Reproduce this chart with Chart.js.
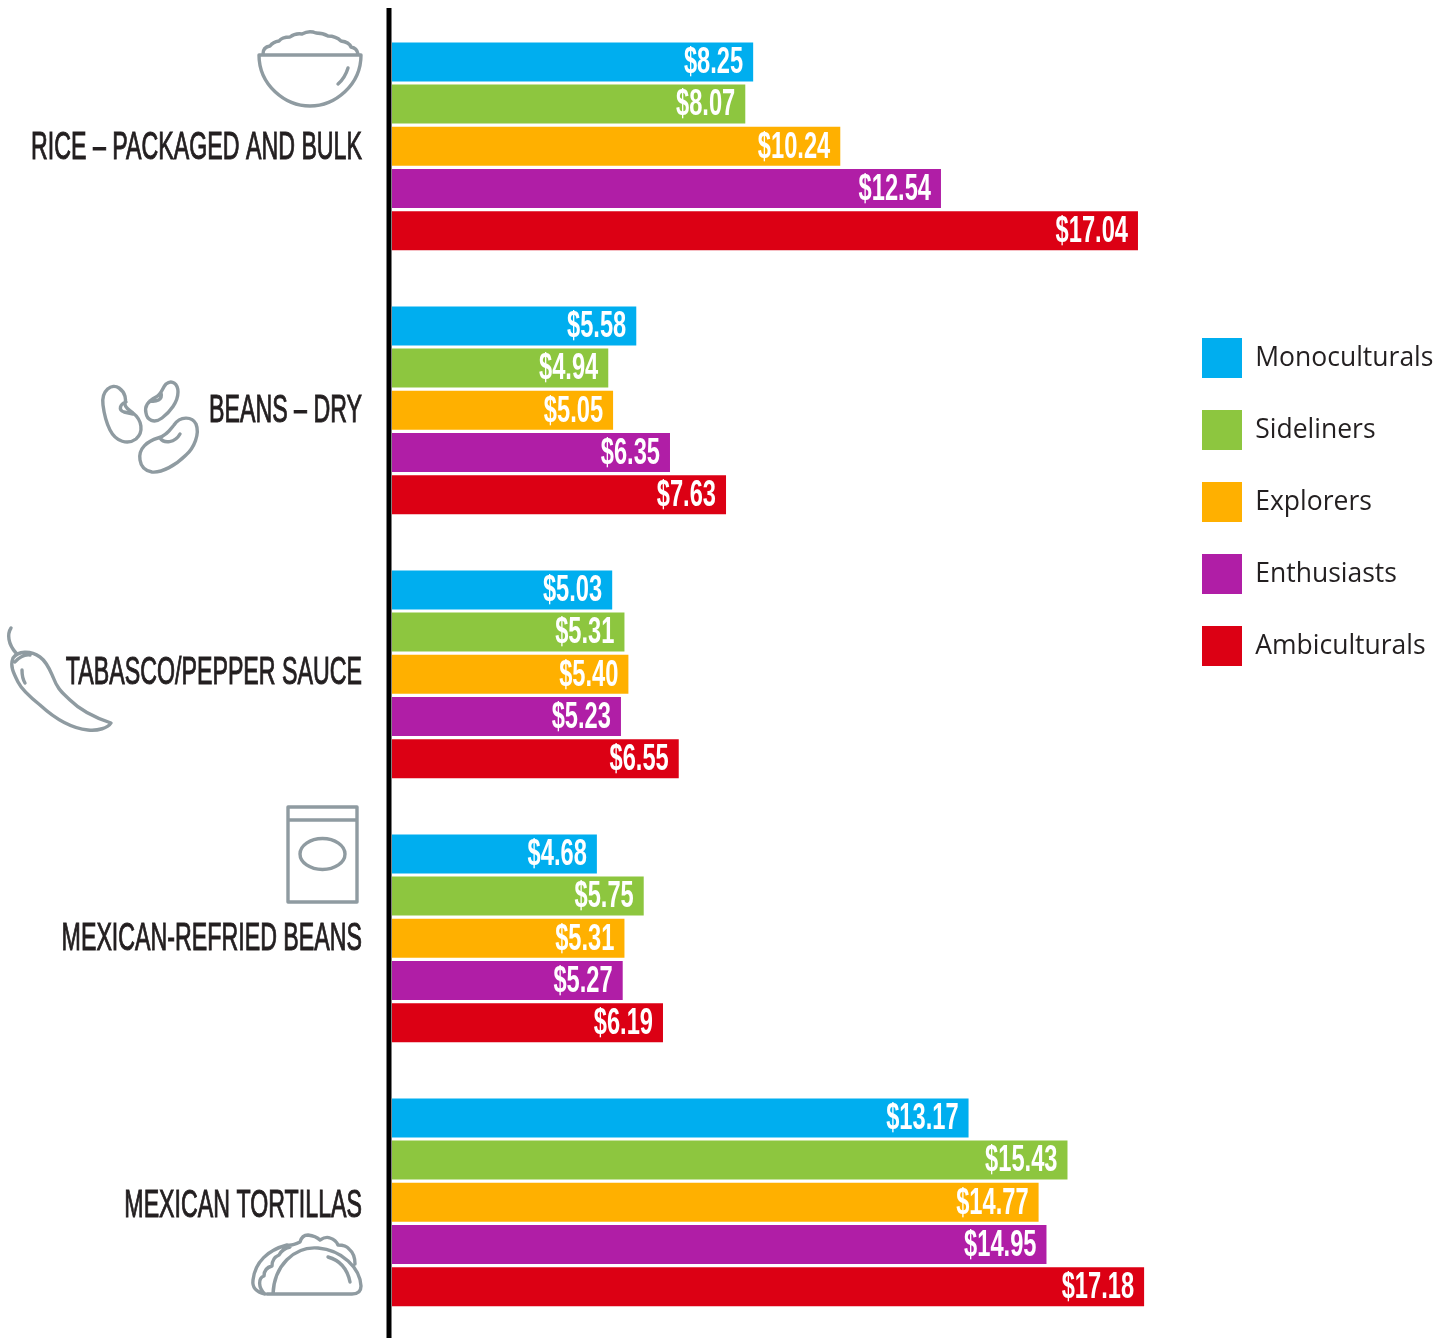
<!DOCTYPE html>
<html>
<head>
<meta charset="utf-8">
<style>
html, body { margin: 0; padding: 0; background: #fff; }
#wrap { width: 1451px; height: 1338px; }
canvas { display: block; }
</style>
<script src="https://cdn.jsdelivr.net/npm/chart.js@4"></script>
</head>
<body>
<div id="wrap"><canvas id="myChart" width="1451" height="1338"></canvas></div>
<script>
const categories = ['RICE – PACKAGED AND BULK', 'BEANS – DRY', 'TABASCO/PEPPER SAUCE', 'MEXICAN-REFRIED BEANS', 'MEXICAN TORTILLAS'];
const monoculturals = [8.25, 5.58, 5.03, 4.68, 13.17];
const sideliners = [8.07, 4.94, 5.31, 5.75, 15.43];
const explorers = [10.24, 5.05, 5.40, 5.31, 14.77];
const enthusiasts = [12.54, 6.35, 5.23, 5.27, 14.95];
const ambiculturals = [17.04, 7.63, 6.55, 6.19, 17.18];

const iconColor = '#8f9ba1';
const narrowFont = '"Liberation Sans Narrow", "Liberation Sans", sans-serif';

// squeezed text, the labels in the original are a tall condensed face
function drawCondensed(ctx, text, right, middle, font, squeeze, color, heavy) {
    ctx.save();
    ctx.font = font;
    ctx.fillStyle = color;
    ctx.strokeStyle = color;
    ctx.lineWidth = heavy;
    ctx.textAlign = 'right';
    ctx.textBaseline = 'middle';
    ctx.translate(right, middle);
    ctx.scale(squeeze, 1);
    ctx.fillText(text, 0, 0);
    if (heavy) ctx.strokeText(text, 0, 0);
    ctx.restore();
}

// outline icons next to the category labels
const icons = [
    // rice bowl
    'M259 55 L361 55 C361 85 335 106 310 106 C285 106 259 85 259 55 Z M348 68 Q345 78 338 84 ' +
    'M263 54 Q263 47 270 46 Q273 42 279 41 Q282 37 290 37 Q295 33 302 34 Q309 30 316 33 Q323 33 328 36 Q336 36 341 41 Q349 42 351 47 Q357 48 358 54',
    // beans
    'M103 405 C101 390 112 383 119 388 C126 393 126 400 125 403 C124 408 130 410 133 413 C142 420 144 432 136 439 C128 445 116 442 110 430 C106 422 104 413 103 405 Z ' +
    'M126 402 C120 404 118 410 124 412 L133 414 ' +
    'M146 413 C144 405 150 400 156 397 C162 394 162 388 166 384 C172 379 178 384 178 392 C178 402 170 412 162 418 C154 424 147 420 146 413 Z ' +
    'M161 393 C163 400 156 402 150 401 ' +
    'M140 460 C138 448 148 441 158 438 C166 436 170 430 174 425 C180 416 192 416 196 424 C200 434 194 448 186 455 C176 465 162 473 152 472 C146 471 141 467 140 460 Z ' +
    'M160 438 C164 444 175 443 180 434',
    // pepper
    'M11 628 C7 634 8 644 16 653 M13 658 C18 651 30 650 40 657 C47 662 50 670 53 677 C58 690 62 692 70 700 C78 708 90 716 111 723 C108 728 98 731 88 730 C68 728 52 716 40 705 C30 697 22 690 18 682 C13 672 10 666 13 658 Z ' +
    'M15 662 Q22 654 30 655 M22 670 Q22 678 25 683',
    // package
    'M288 807 L357 807 L357 902 L288 902 Z M288 820 L357 820',
    // taco
    'M267 1294 L352 1294 C358 1294 361 1291 361 1286 C360 1268 342 1250 318 1248 C294 1246 274 1266 273 1294 ' +
    'M265 1294 C256 1292 252 1288 253 1280 C255 1262 268 1250 287 1245 Q292 1246 300 1242 Q302 1235 308 1235 Q316 1236 320 1240 Q326 1236 330 1238 Q336 1240 338 1245 Q346 1245 349 1249 Q355 1254 355 1264 ' +
    'M265 1294 C258 1288 258 1278 264 1276 Q264 1268 272 1266 Q272 1258 279 1255 Q282 1249 290 1247 ' +
    'M328 1257 Q346 1262 350 1282'
];

const decorPlugin = {
    id: 'decor',
    afterLayout(chart) {
        // the legend sits beside the upper bars, not mid-height
        chart.legend.left = 1170;
        chart.legend.top = 306;
    },
    afterDatasetsDraw(chart) {
        const ctx = chart.ctx;
        // values inside the bar ends
        chart.data.datasets.forEach((ds, i) => {
            chart.getDatasetMeta(i).data.forEach((bar, j) => {
                drawCondensed(ctx, '$' + ds.data[j].toFixed(2), bar.x - 10, bar.y + 1, 'bold 37px ' + narrowFont, 0.64, '#fff', 0);
            });
        });
        // category labels
        const yScale = chart.scales.y;
        const nudge = [2, 1, -1, 1, 4];
        categories.forEach((label, i) => {
            drawCondensed(ctx, label, 362, yScale.getPixelForTick(i) + nudge[i], '39px ' + narrowFont, 0.595, '#231f20', 1);
        });
        // axis line
        ctx.save();
        ctx.fillStyle = '#000';
        ctx.fillRect(386.5, 8, 5, 1330);
        // icons
        ctx.strokeStyle = iconColor;
        ctx.lineWidth = 3.4;
        ctx.lineJoin = 'round';
        ctx.lineCap = 'round';
        icons.forEach(d => ctx.stroke(new Path2D(d)));
        ctx.beginPath();
        ctx.ellipse(322.5, 854, 22.5, 15.5, 0, 0, Math.PI * 2);
        ctx.stroke();
        ctx.restore();
    }
};

function createChart() {
    const ctx = document.getElementById('myChart').getContext('2d');
    const series = [
        ['Monoculturals', monoculturals, '#00aeef'],
        ['Sideliners', sideliners, '#8dc63f'],
        ['Explorers', explorers, '#ffb000'],
        ['Enthusiasts', enthusiasts, '#b01ea6'],
        ['Ambiculturals', ambiculturals, '#dc0014']
    ];
    new Chart(ctx, {
        type: 'bar',
        data: {
            labels: categories,
            datasets: series.map(s => ({
                label: s[0],
                data: s[1],
                backgroundColor: s[2],
                borderWidth: 0,
                categoryPercentage: 211 / 264,
                barPercentage: 39 / 42.2
            }))
        },
        options: {
            indexAxis: 'y',
            responsive: false,
            animation: false,
            layout: { padding: { top: 14.3, bottom: 3.7 } },
            plugins: {
                tooltip: { enabled: false },
                legend: {
                    position: 'right',
                    align: 'start',
                    maxWidth: 271,
                    labels: {
                        boxWidth: 40,
                        boxHeight: 40,
                        padding: 32,
                        color: '#231f20',
                        font: { family: '"Open Sans"', size: 26.5 }
                    }
                }
            },
            scales: {
                x: { display: false, min: 0, max: 18 },
                y: {
                    grid: { display: false },
                    border: { display: false },
                    ticks: { display: false },
                    afterFit(scale) { scale.width = 392; }
                }
            }
        },
        plugins: [decorPlugin]
    });
}
createChart();
</script>
</body>
</html>
